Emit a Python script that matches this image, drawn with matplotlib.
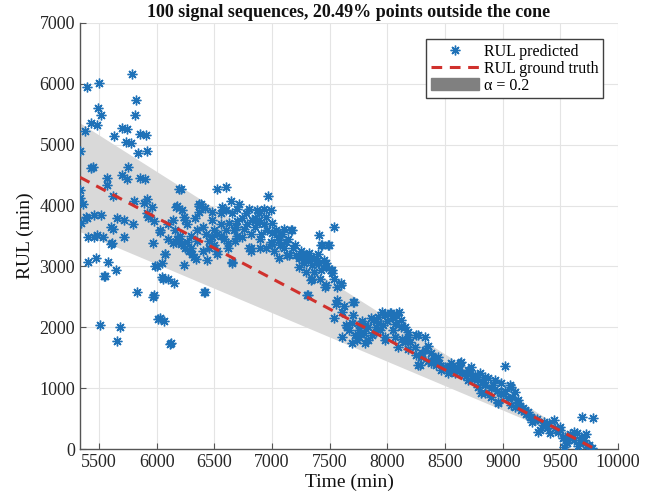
import numpy as np
import matplotlib
matplotlib.use("Agg")
import matplotlib.pyplot as plt
from matplotlib.lines import Line2D
from matplotlib.patches import Patch

plt.rcParams['font.family'] = ['Liberation Serif', 'DejaVu Serif']

# ground truth: RUL reaches zero at t_end
t_start = 5336
t_end = 9800
alpha = 0.2

# predicted RUL (time, RUL) -- early part, wide spread
t_early = [5400, 5500, 5785, 5819, 5495, 5517, 5810, 5431, 5483, 5380, 5630, 5697, 5741, 5733,
           5776, 5853, 5905, 5836, 5914, 5336, 5448, 5750, 5698, 5741, 5853, 5896, 5569, 5569,
           5802, 5888, 5957, 5336, 5336, 5362, 5621, 5345, 5397, 5457, 5655, 5716, 5793, 5621,
           5405, 5457, 5534, 5612, 5716, 5914, 5922, 5974, 5914, 5405, 5474, 5578, 5603, 5543,
           5647, 5828, 5509, 5681, 5655, 5974, 5431, 5603, 5552, 5983, 5390, 5520, 5480]
rul_early = [5940, 6020, 6160, 5740, 5610, 5480, 5480, 5350, 5330, 5220, 5140, 5270, 5250, 5040,
             5020, 5180, 5160, 4870, 4890, 4890, 4640, 4640, 4510, 4440, 4460, 4430, 4460, 4330,
             4080, 4050, 3970, 4250, 4130, 4020, 4150, 3720, 3790, 3840, 3800, 3770, 3700, 3620,
             3490, 3490, 3480, 3380, 3480, 3870, 3810, 3740, 4100, 3070, 3130, 3070, 3360, 2840,
             2940, 2580, 2030, 2000, 1770, 2530, 4620, 3640, 2850, 3000, 3820, 3850, 3520]

# middle part, dense cloud above the truth line
t_mid = [6000, 6043, 6069, 6043, 6095, 6147, 6009, 6060, 6129, 6112, 6422, 6241, 6310, 6345,
         6440, 6526, 6655, 6138, 6215, 6819, 6897, 7000, 7103, 7146, 7233, 7310, 7345, 7422,
         7310, 7336, 7457, 6215, 6198, 6526, 6603, 6966, 6388, 6172, 6224, 6370, 6647, 6715,
         6569, 6560, 6483, 6138, 6241, 6267, 6353, 6431, 6629, 6672, 6776, 6828, 6888, 6931,
         6991, 6888, 7000, 7034, 7086, 7164, 6819, 6741, 6526, 6026, 6095, 5966, 6164, 6224,
         6353, 6621, 7405, 6603, 6655, 6741, 6871, 6871, 6905, 6690, 6802, 6991, 7060, 7129,
         7060, 7207, 7250, 7293, 7379, 7465, 7508, 7233, 7293, 7345, 7431, 7491, 7534, 7595,
         7465, 6370, 6483, 6526, 6819, 6655, 7103, 7172, 6026, 6250, 6284, 6327, 6069, 6052,
         5966, 6414, 6026, 6181, 6370, 7422, 7483, 7405, 7517, 7302,
         6400, 6450, 6500, 6580, 6600, 6700, 6760, 6850, 6950, 6960, 7050, 7120, 7180, 7250,
         7320, 7380, 7450, 6300, 6260, 6330, 6420, 6480, 6700, 6800, 6900, 6950, 7020, 7280,
         7360, 7420, 6680, 6560, 6160, 6200, 6100, 6400, 6450, 7540, 7560,
         6620, 6700, 6780, 6850, 6930, 7000, 7070, 7140, 7200, 7270, 7340, 7400, 7470, 6500,
         6560, 6250, 6300, 6180]
rul_mid = [3000, 3050, 3200, 2820, 2790, 2720, 2130, 2100, 1740, 1720, 2580, 3020, 3200, 3120,
           3100, 3210, 3050, 3380, 3360, 3300, 3310, 3360, 3310, 3180, 3130, 3100, 3020, 2940,
           2530, 2770, 2660, 4280, 4280, 4280, 4300, 4150, 4020, 3970, 3930, 3890, 4080, 4030,
           3970, 3870, 3760, 3760, 3810, 3700, 3590, 3540, 3720, 3590, 3870, 3760, 3870, 3950,
           3920, 3760, 3720, 3590, 3540, 3590, 3540, 3480, 3540, 3590, 3700, 3380, 3400, 3380,
           3410, 3380, 3510, 3920, 3870, 3800, 3920, 3710, 3540, 3640, 3300, 3400, 3430, 3180,
           3130, 3180, 3130, 3150, 3130, 2990, 2940, 2990, 2900, 2800, 3350, 3350, 3640, 2690,
           2690, 4030, 3480, 3260, 3260, 3070, 3620, 3590, 3560, 3760, 3260, 3150, 3210, 2800,
           2490, 2580, 2150, 4000, 4000, 3350, 3350, 3050, 2940, 2530,
           3650, 3420, 3350, 3450, 3600, 3750, 3620, 3650, 3820, 3600, 3480, 3400, 3300, 3250,
           3220, 3050, 3100, 3500, 3400, 3800, 3960, 3900, 3950, 3950, 3450, 3300, 3250, 3050,
           2900, 2800, 3420, 3700, 3600, 3500, 3450, 3250, 3300, 2800, 2660,
           3300, 3500, 3700, 3800, 3700, 3550, 3350, 3450, 3350, 3200, 3150, 3200, 3050, 3600,
           3500, 3300, 3300, 3450]

# late part, tight band around the truth line
t_late = [7517, 7595, 7552, 7698, 7707, 7603, 7534, 7638, 7603, 7664, 7733, 7767, 7836, 7879,
          7922, 7983, 8026, 8078, 8121, 8155, 7966, 7905, 7983, 8069, 8181, 8267, 8328, 8241,
          8328, 8379, 8440, 8267, 8500, 8552, 8638, 8724, 8802, 8871, 8931, 8983, 9017, 9069,
          9103, 8845, 8957, 9103, 9190, 9241, 9302, 9362, 9448, 9500, 9560, 9621, 9690, 9784,
          9672, 9733, 9776, 9534, 9414, 9129, 8897, 8784, 8698, 8586, 8466, 8379, 8293, 8095,
          7810, 7690, 7750, 7647, 7690, 7750, 7810, 7862, 7922, 8034, 8121, 8181, 8250, 8285,
          8414, 8483, 8526, 8629, 8698, 8759, 7983, 7836, 7750, 8845, 8810, 8983, 9060, 8957,
          9069, 9155, 9233, 9284, 9319, 9405, 9500, 9543, 9560, 9621, 9646, 9707, 9750,
          7950, 8000, 8050, 8100, 8070, 7940, 7870, 8130, 8200, 8350, 8400, 8450, 8550, 8600,
          8650, 8750, 8820, 8900, 9000, 9050, 9150, 9200, 9250, 9350, 9450, 9600, 9700, 9650,
          9580, 7560, 7620, 7700, 7780, 7720, 8300, 8180,
          8550, 8620, 8680, 8720, 8780, 8850, 8920, 8950, 9020, 9080, 9130, 9180, 9220, 9300,
          9380, 9480, 9520, 9680, 9720, 8350, 8420, 8250, 8150, 8050, 7900, 7800]
rul_late = [2890, 2720, 2390, 2410, 2410, 2250, 2150, 2030, 1840, 1950, 1790, 1900, 2000, 2120,
            2170, 2200, 2230, 2200, 2120, 2000, 2030, 1920, 1790, 1840, 1840, 1870, 1840, 1670,
            1620, 1570, 1510, 1380, 1340, 1410, 1430, 1340, 1250, 1160, 1130, 1080, 1360, 1020,
            940, 920, 750, 690, 640, 520, 280, 440, 480, 360, 150, 280, 520, 510,
            150, 70, 20, 30, 260, 800, 850, 1020, 1130, 1250, 1300, 1410, 1510, 1670,
            1740, 1740, 2030, 2000, 2070, 1950, 2030, 2150, 2070, 2230, 2000, 1920, 1870, 1380,
            1460, 1340, 1250, 1410, 1300, 1210, 1840, 1790, 1840, 1180, 920, 920, 1050, 770,
            720, 640, 520, 480, 310, 430, 310, 200, 100, 150, 260, 150, 70,
            2250, 2100, 2150, 2250, 2050, 1950, 1880, 1800, 1750, 1700, 1500, 1420, 1300, 1350,
            1250, 1150, 1100, 1000, 900, 830, 700, 580, 450, 400, 350, 200, 100, 50,
            250, 2450, 2350, 2200, 2100, 1880, 1580, 1650,
            1350, 1300, 1200, 1250, 1150, 1050, 1050, 950, 950, 850, 750, 680, 600, 500,
            350, 280, 180, 200, 250, 1450, 1380, 1550, 1750, 1950, 2000, 1900]

title_text = "100 signal sequences, 20.49% points outside the cone"
x_ticks = [5500, 6000, 6500, 7000, 7500, 8000, 8500, 9000, 9500, 10000]
y_ticks = [0, 1000, 2000, 3000, 4000, 5000, 6000, 7000]

blue = '#1f72b8'
red = '#d0312d'
txt = '#262626'

fig = plt.figure(figsize=(6.52, 4.99), dpi=100)
ax = fig.add_axes([0.1227, 0.1002, 0.8253, 0.8538])

t_line = np.array([t_start, t_end])
truth = t_end - t_line
ax.fill_between(t_line, (1 - alpha) * truth, (1 + alpha) * truth,
                color='#d9d9d9', linewidth=0, zorder=1)

t_all = t_early + t_mid + t_late
rul_all = rul_early + rul_mid + rul_late
ax.plot(t_all, rul_all, linestyle='none', marker=(8, 2, 0), markersize=7,
        markeredgewidth=1.0, color=blue, zorder=3)
ax.plot(t_line, truth, '--', color=red, linewidth=2.2, dashes=(3.5, 2.5), zorder=4)

ax.set_xlim(t_start, 10000)
ax.set_ylim(0, 7000)
ax.set_xticks(x_ticks)
ax.set_yticks(y_ticks)
ax.grid(True, color='#e4e4e4', linewidth=0.8, zorder=0)
ax.set_axisbelow(True)
for s in ['top', 'right']:
    ax.spines[s].set_visible(False)
for s in ['left', 'bottom']:
    ax.spines[s].set_color('#555555')
    ax.spines[s].set_linewidth(1.0)
ax.tick_params(direction='in', length=4, width=0.8, colors='#555555',
               labelcolor=txt, labelsize=13)

ax.set_title(title_text, fontsize=13, fontweight='bold', color='#111111', pad=4)
ax.set_xlabel("Time (min)", fontsize=14, color='#111111', labelpad=2)
ax.set_ylabel("RUL (min)", fontsize=14, color='#111111', labelpad=4)

handles = [
    Line2D([], [], linestyle='none', marker=(8, 2, 0), markersize=7,
           markeredgewidth=1.0, color=blue),
    Line2D([], [], linestyle='--', color=red, linewidth=2.2, dashes=(3.5, 2.5)),
    Patch(facecolor='#808080', edgecolor='#808080'),
]
labels = ["RUL predicted", "RUL ground truth", "α = 0.2"]
leg = ax.legend(handles, labels, loc='upper right', bbox_to_anchor=(0.972, 0.962),
                borderaxespad=0, fontsize=11.5, handlelength=3.0, handletextpad=0.3,
                labelspacing=0.05, borderpad=0.3, fancybox=False, framealpha=1,
                edgecolor='#404040')
leg.get_frame().set_linewidth(1.0)

fig.savefig("out.png", dpi=100)
